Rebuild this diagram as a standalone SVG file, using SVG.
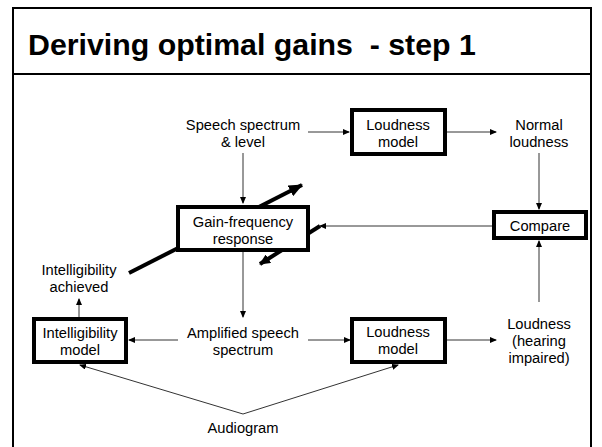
<svg xmlns="http://www.w3.org/2000/svg" width="602" height="447" viewBox="0 0 602 447">
<defs>
<style>
.t{font-family:"Liberation Sans",Arial,sans-serif;font-size:14.7px;fill:#000;text-anchor:middle}
.title{font-family:"Liberation Sans",Arial,sans-serif;font-size:30.3px;font-weight:bold;fill:#000;white-space:pre}
.box{fill:#fff;stroke:#000;stroke-width:4}
.c{fill:none;stroke:#333;stroke-width:1}
.thick{fill:none;stroke:#000;stroke-width:4}
</style>
<marker id="a" markerUnits="userSpaceOnUse" markerWidth="7" markerHeight="6" refX="6" refY="3" orient="auto">
<path d="M0,0 L7,3 L0,6 z" fill="#000"/>
</marker>
<marker id="A" markerUnits="userSpaceOnUse" markerWidth="14" markerHeight="12" refX="13" refY="6" orient="auto">
<path d="M0,0 L14,6 L0,12 z" fill="#000"/>
</marker>
<marker id="B" markerUnits="userSpaceOnUse" markerWidth="11" markerHeight="10" refX="10" refY="5" orient="auto">
<path d="M0,0 L11,5 L0,10 z" fill="#000"/>
</marker>
</defs>
<rect x="0" y="0" width="602" height="447" fill="#fff"/>
<g id="frame">
<path d="M13,449 V8 H591 V449" fill="none" stroke="#000" stroke-width="2"/>
<line x1="12" y1="74" x2="591" y2="74" stroke="#000" stroke-width="2"/>
<text class="title" x="28" y="55" xml:space="preserve">Deriving optimal gains  - step 1</text>
</g>
<g id="connectors">
<line class="c" x1="308" y1="132" x2="349" y2="132" marker-end="url(#a)"/>
<line class="c" x1="447" y1="132" x2="496" y2="132" marker-end="url(#a)"/>
<line class="c" x1="539" y1="153" x2="539" y2="209" marker-end="url(#a)"/>
<line class="c" x1="493" y1="226" x2="320" y2="226" marker-end="url(#a)"/>
<line class="c" x1="243" y1="153" x2="243" y2="203" marker-end="url(#a)"/>
<line class="c" x1="243" y1="252" x2="243" y2="317" marker-end="url(#a)"/>
<line class="c" x1="178" y1="340" x2="129" y2="340" marker-end="url(#a)"/>
<line class="c" x1="79" y1="317" x2="79" y2="299" marker-end="url(#a)"/>
<line class="c" x1="308" y1="340" x2="350" y2="340" marker-end="url(#a)"/>
<line class="c" x1="447" y1="340" x2="496" y2="340" marker-end="url(#a)"/>
<line class="c" x1="539" y1="302" x2="539" y2="241" marker-end="url(#a)"/>
<line class="c" x1="243" y1="414" x2="80" y2="365" marker-end="url(#a)"/>
<line class="c" x1="243" y1="414" x2="398" y2="365" marker-end="url(#a)"/>
<line class="thick" x1="129" y1="273" x2="302" y2="185" marker-end="url(#A)"/>
<line class="thick" x1="320" y1="226" x2="260" y2="264" stroke-width="3" marker-end="url(#B)"/>
</g>
<g id="speech">
<text class="t" x="243" y="130">Speech spectrum</text>
<text class="t" x="243" y="147">&amp; level</text>
</g>
<g id="loudness-top">
<rect class="box" x="352" y="110" width="93" height="44"/>
<text class="t" x="398" y="130">Loudness</text>
<text class="t" x="398" y="147">model</text>
</g>
<g id="normal">
<text class="t" x="539" y="130">Normal</text>
<text class="t" x="539" y="147">loudness</text>
</g>
<g id="gain">
<rect class="box" x="178" y="207" width="130" height="43"/>
<text class="t" x="243" y="227">Gain-frequency</text>
<text class="t" x="243" y="244">response</text>
</g>
<g id="compare">
<rect class="box" x="494" y="212" width="92" height="26"/>
<text class="t" x="540" y="231">Compare</text>
</g>
<g id="intel-achieved">
<text class="t" x="79" y="275">Intelligibility</text>
<text class="t" x="79" y="292">achieved</text>
</g>
<g id="intel-model">
<rect class="box" x="34" y="319" width="92" height="43"/>
<text class="t" x="80" y="338">Intelligibility</text>
<text class="t" x="80" y="355">model</text>
</g>
<g id="amplified">
<text class="t" x="243" y="338">Amplified speech</text>
<text class="t" x="243" y="355">spectrum</text>
</g>
<g id="loudness-bottom">
<rect class="box" x="352" y="319" width="93" height="43"/>
<text class="t" x="398" y="337">Loudness</text>
<text class="t" x="398" y="354">model</text>
</g>
<g id="loudness-hi">
<text class="t" x="539" y="329">Loudness</text>
<text class="t" x="539" y="346">(hearing</text>
<text class="t" x="539" y="363">impaired)</text>
</g>
<g id="audiogram">
<text class="t" x="243" y="433">Audiogram</text>
</g>
</svg>
